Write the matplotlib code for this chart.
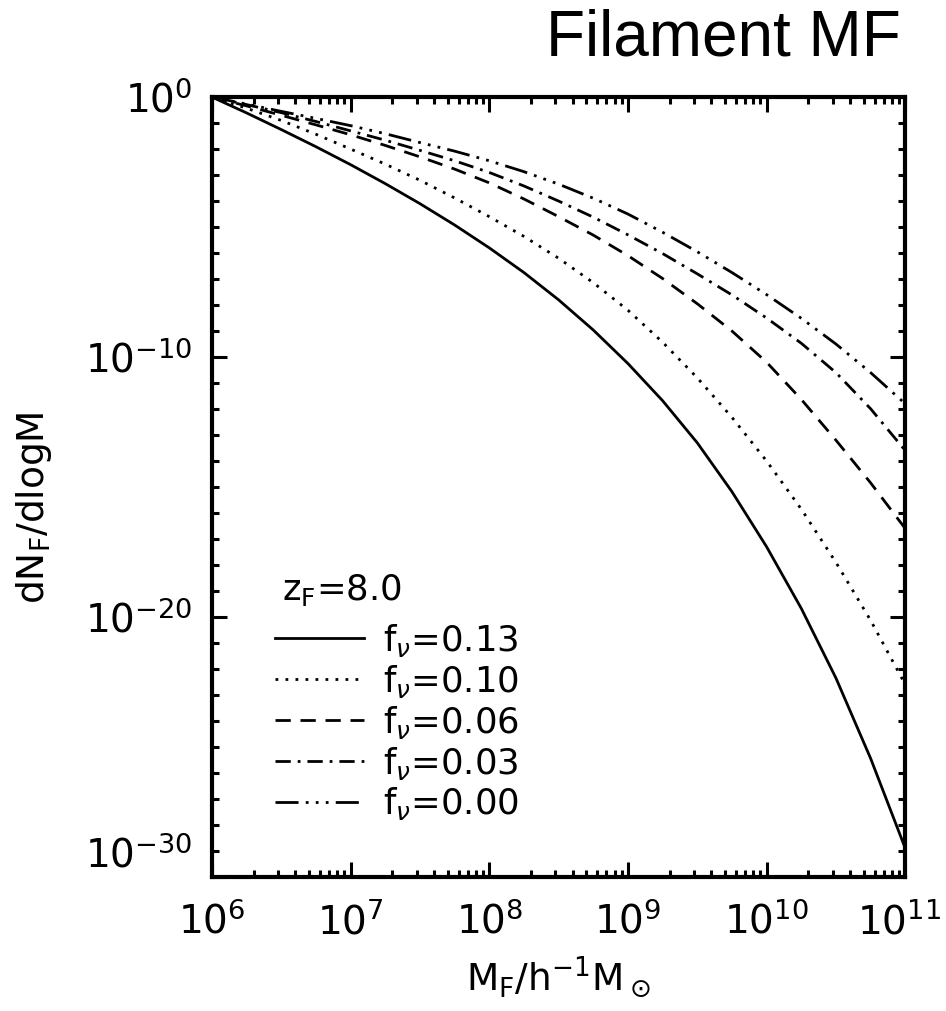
import numpy as np
import matplotlib
matplotlib.use("Agg")
import matplotlib.pyplot as plt
from matplotlib.ticker import FixedLocator, LogFormatterSciNotation, NullFormatter
from matplotlib.transforms import ScaledTranslation

plt.rcParams['mathtext.fontset'] = 'dejavusans'

# log10 of filament mass (h^-1 Msun)
log_m = [6.0, 6.25, 6.5, 6.75, 7.0, 7.25, 7.5, 7.75, 8.0, 8.25, 8.5,
         8.75, 9.0, 9.25, 9.5, 9.75, 10.0, 10.25, 10.5, 10.75, 11.0]

# log10 of dN/dlogM, one list per neutrino fraction
f013 = [0.0, -0.61, -1.25, -1.91, -2.6, -3.33, -4.1, -4.92, -5.8, -6.75, -7.8,
        -8.96, -10.25, -11.68, -13.3, -15.18, -17.3, -19.67, -22.35, -25.44, -28.9]
f010 = [0.0, -0.43, -0.9, -1.43, -2.0, -2.58, -3.2, -3.88, -4.6, -5.36, -6.2,
        -7.14, -8.2, -9.43, -10.8, -12.32, -14.0, -15.85, -17.9, -20.13, -22.6]
f006 = [0.0, -0.34, -0.7, -1.07, -1.45, -1.86, -2.3, -2.77, -3.3, -3.92, -4.6,
        -5.31, -6.1, -6.98, -7.95, -9.0, -10.2, -11.63, -13.2, -14.84, -16.6]
f003 = [0.0, -0.29, -0.6, -0.94, -1.3, -1.66, -2.05, -2.45, -2.9, -3.42, -4.0,
        -4.62, -5.3, -6.02, -6.8, -7.61, -8.5, -9.47, -10.6, -11.99, -13.6]
f000 = [0.0, -0.27, -0.55, -0.82, -1.1, -1.41, -1.75, -2.08, -2.45, -2.87, -3.35,
        -3.89, -4.5, -5.2, -5.95, -6.75, -7.6, -8.51, -9.5, -10.6, -11.8]

labels = [r'f$_\nu$=0.13', r'f$_\nu$=0.10', r'f$_\nu$=0.06',
          r'f$_\nu$=0.03', r'f$_\nu$=0.00']
styles = ['-', (0, (1, 2.6)), (0, (5.5, 3.5)), (0, (5.5, 2.5, 1, 2.5)),
          (0, (8.3, 2.6, 1, 2.6, 1, 2.6, 1, 2.6))]


def plot_mf():
    fig = plt.figure(figsize=(9.46, 10.11), dpi=100)
    ax = fig.add_axes([0.224, 0.1325, 0.733, 0.7715])

    m = 10 ** np.array(log_m)
    for vals, ls, lab in zip([f013, f010, f006, f003, f000], styles, labels):
        ax.plot(m, 10 ** np.array(vals), color='black', lw=2.0, ls=ls, label=lab)

    ax.set_xscale('log')
    ax.set_yscale('log')
    ax.set_xlim(1e6, 1e11)
    ax.set_ylim(1e-30, 1e0)

    ax.yaxis.set_major_locator(FixedLocator([1e0, 1e-10, 1e-20, 1e-30]))
    ax.yaxis.set_minor_locator(FixedLocator([10.0 ** k for k in range(-30, 1)]))
    ax.yaxis.set_minor_formatter(NullFormatter())
    ax.yaxis.set_major_formatter(LogFormatterSciNotation())
    ax.xaxis.set_major_locator(FixedLocator([10.0 ** k for k in range(6, 12)]))
    ax.xaxis.set_minor_locator(FixedLocator(
        [j * 10.0 ** k for k in range(6, 11) for j in range(2, 10)]))
    ax.xaxis.set_minor_formatter(NullFormatter())

    ax.tick_params(which='both', direction='in', top=True, right=True,
                   width=2.2, labelsize=28, colors='black')
    ax.tick_params(axis='x', which='major', length=11, pad=18)
    ax.tick_params(axis='y', which='major', length=11, pad=14)
    ax.tick_params(which='minor', length=5)
    for sp in ax.spines.values():
        sp.set_linewidth(3)

    fig.canvas.draw()
    # the bottom y label sits one decade above the axis in the original
    for lab in ax.get_yticklabels():
        if '30' in lab.get_text():
            lab.set_transform(lab.get_transform() +
                              ScaledTranslation(0, 25 / 100, fig.dpi_scale_trans))
    # keep the last x label inside the figure
    xlabs = ax.get_xticklabels()
    xlabs[-1].set_transform(xlabs[-1].get_transform() +
                            ScaledTranslation(-6 / 100, 0, fig.dpi_scale_trans))

    ax.set_xlabel(r'M$_\mathrm{F}$/h$^{-1}$M$_\odot$', fontsize=27)
    ax.set_ylabel(r'dN$_\mathrm{F}$/dlogM', fontsize=27)
    ax.xaxis.set_label_coords(0.5, -0.1)
    ax.yaxis.set_label_coords(-0.228, 0.474)

    ax.text(0.101, 0.368, r'z$_\mathrm{F}$=8.0', transform=ax.transAxes,
            fontsize=25.5, ha='left', va='center')
    ax.legend(loc='lower left', bbox_to_anchor=(0.091, 0.07), frameon=False,
              fontsize=25.5, handlelength=2.5, handletextpad=0.56,
              labelspacing=0.11, borderpad=0, borderaxespad=0)

    fig.text(0.952, 0.962, 'Filament MF', fontsize=46, ha='right', va='center',
             family='Liberation Sans')

    fig.savefig('out.png', dpi=100)


if __name__ == "__main__":
    plot_mf()
